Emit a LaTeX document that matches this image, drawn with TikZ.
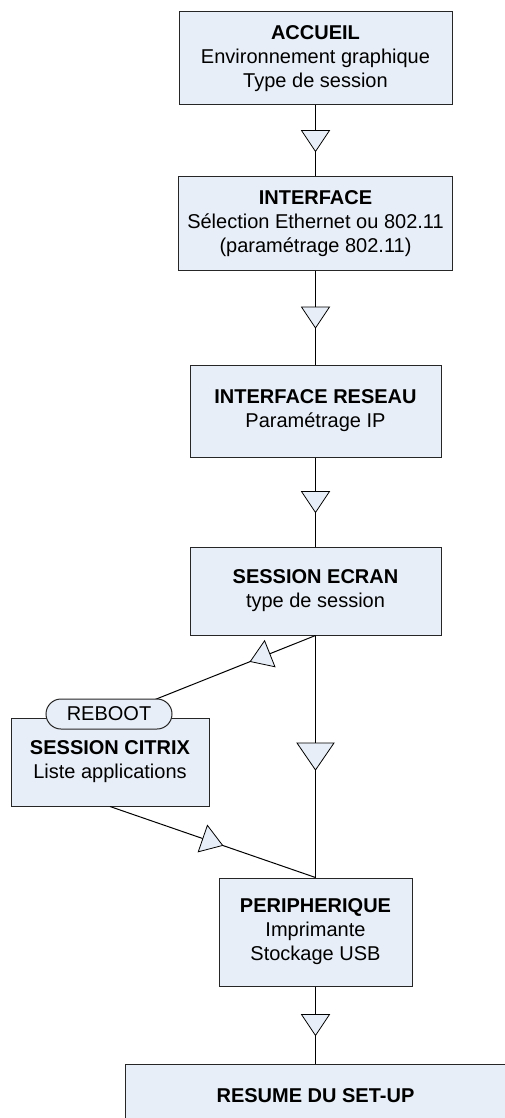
\documentclass[tikz,border=0pt]{standalone}
\usepackage{fontspec}
\setmainfont{Liberation Sans}
\usepackage{tikz}
\usetikzlibrary{decorations.markings}
\definecolor{boxfill}{RGB}{232,238,247}
\tikzstyle{block}=[rectangle,draw=black!85,fill=boxfill,line width=1pt,inner sep=0pt,align=center]
\tikzstyle{pill}=[rectangle,rounded corners=15pt,draw=black!85,fill=boxfill,line width=1pt,inner sep=0pt]
\tikzstyle{tri}=[draw=black,fill=boxfill,line width=0.8pt,line join=miter]
\tikzset{
  flow/.style={postaction={decorate},decoration={markings,
    mark=at position #1 with {\draw[tri] (-10.5pt,-14pt) -- (10.5pt,0pt) -- (-10.5pt,14pt) -- cycle;}}},
  flow/.default=0.5,
  bigflow/.style={postaction={decorate},decoration={markings,
    mark=at position #1 with {\draw[tri] (-13.5pt,-18.5pt) -- (13.5pt,0pt) -- (-13.5pt,18.5pt) -- cycle;}}},
  bigflow/.default=0.5
}

\begin{document}
\begin{tikzpicture}[x=1pt,y=-1pt,line width=1pt,font=\fontsize{20}{24}\selectfont]
        \useasboundingbox (0,0) rectangle (505,1118);

        \node[block,minimum width=273pt,minimum height=93pt] (accueil) at (315.5,58.5)
            {\textbf{ACCUEIL}\\Environnement graphique\\Type de session};
        \node[block,minimum width=274pt,minimum height=93pt] (iface) at (315.5,223.5)
            {\textbf{INTERFACE}\\S\'election Ethernet ou 802.11\\(param\'etrage 802.11)};
        \node[block,minimum width=251pt,minimum height=92pt] (reseau) at (315.5,411)
            {\textbf{INTERFACE RESEAU}\\Param\'etrage IP};
        \node[block,minimum width=251pt,minimum height=88pt] (ecran) at (315.5,591)
            {\textbf{SESSION ECRAN}\\type de session};
        \node[block,minimum width=198pt,minimum height=88pt] (citrix) at (110,762)
            {\textbf{SESSION CITRIX}\\Liste applications};
        \node[block,minimum width=193pt,minimum height=108pt] (periph) at (315.5,932)
            {\textbf{PERIPHERIQUE}\\Imprimante\\Stockage USB};
        \node[block,minimum width=380pt,minimum height=64pt] (resume) at (315.5,1096)
            {\textbf{RESUME DU SET-UP}};

        \draw [flow] (accueil) -- (iface);
        \draw [flow] (iface) -- (reseau);
        \draw [flow] (reseau) -- (ecran);
        \draw [bigflow] (ecran.south) -- (periph.north);
        \draw [flow=0.27] (ecran.south) -- (citrix.north);
        \draw [flow] (citrix.south) -- (periph.north);
        \draw [flow] (periph) -- (resume);

        \node[pill,minimum width=126pt,minimum height=30pt] (reboot) at (109,714) {REBOOT};
\end{tikzpicture}
\end{document}
